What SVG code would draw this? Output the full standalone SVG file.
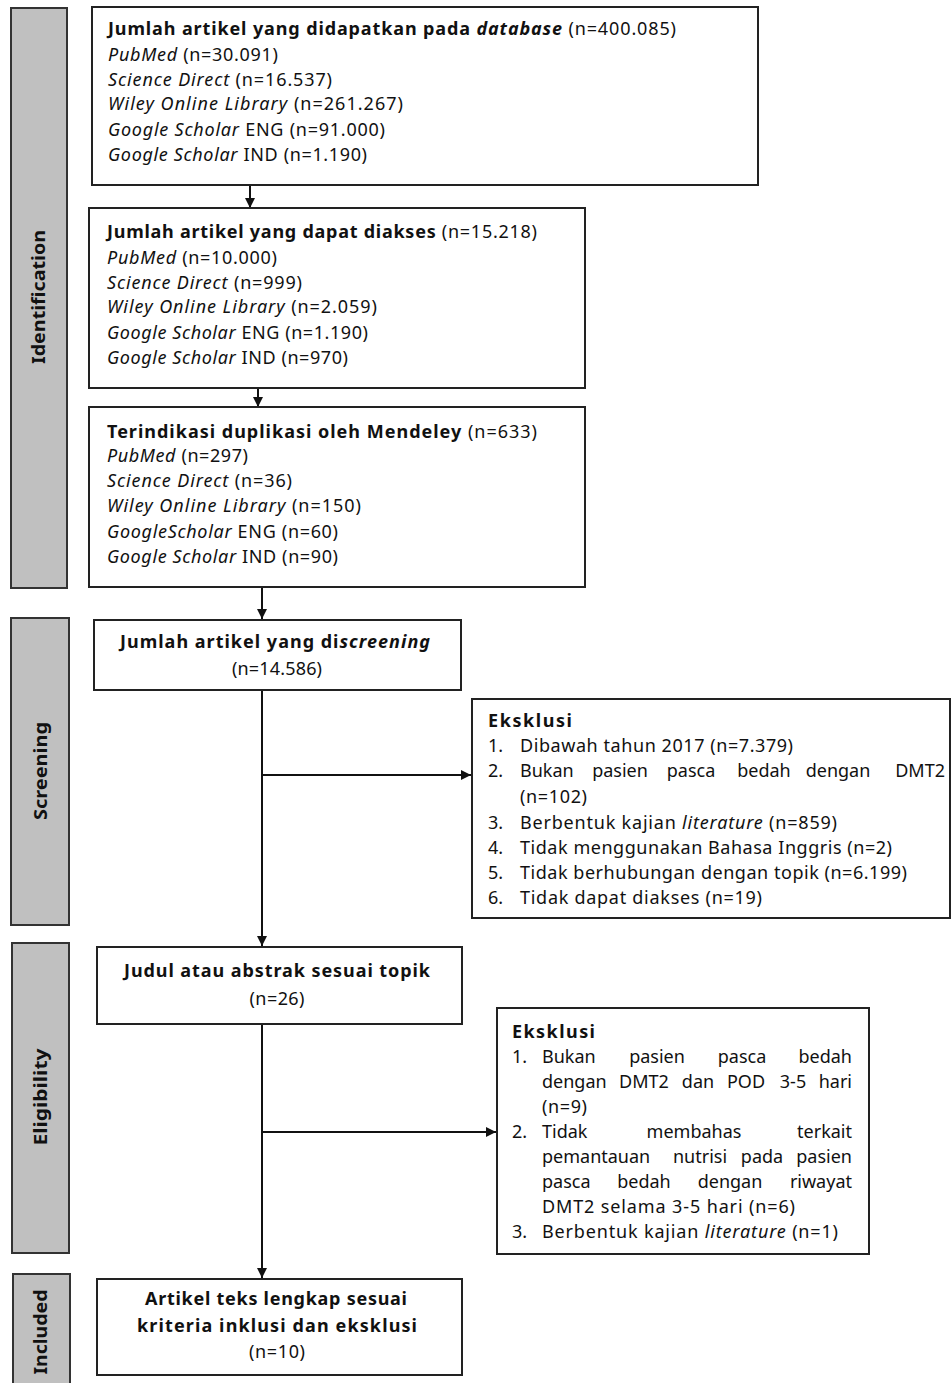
<svg xmlns="http://www.w3.org/2000/svg" width="952" height="1383" viewBox="0 0 952 1383">
<defs>
<marker id="ah" markerUnits="userSpaceOnUse" markerWidth="10" markerHeight="10" refX="10" refY="5" orient="auto">
<path d="M0,0 L10,5 L0,10 z" fill="#111"/>
</marker>
<style>
.box{fill:#fff;stroke:#222;stroke-width:2}
.bar{fill:#c0c0c0;stroke:#333;stroke-width:2}
.con{stroke:#111;stroke-width:2;fill:none}
text{font-family:"Noto Sans","Liberation Sans",sans-serif;font-size:18px;fill:#111}
.b{font-weight:bold;font-size:18px}
.i{font-style:italic}
.lbl{font-weight:bold;font-size:17px}
.c{text-anchor:middle}
.e{text-anchor:end}
</style>
</defs>

<g id="stage-identification">
<rect class="bar" x="11" y="8" width="56" height="580"/>
<text class="lbl c" transform="translate(45,297) rotate(-90)" textLength="134" lengthAdjust="spacingAndGlyphs">Identification</text>
</g>
<g id="stage-screening">
<rect class="bar" x="11" y="618" width="58" height="307"/>
<text class="lbl c" transform="translate(47,771) rotate(-90)" textLength="98" lengthAdjust="spacingAndGlyphs">Screening</text>
</g>
<g id="stage-eligibility">
<rect class="bar" x="12" y="943" width="57" height="310"/>
<text class="lbl c" transform="translate(47,1097) rotate(-90)" textLength="97" lengthAdjust="spacingAndGlyphs">Eligibility</text>
</g>
<g id="stage-included">
<rect class="bar" x="13" y="1274" width="57" height="116"/>
<text class="lbl c" transform="translate(47,1332) rotate(-90)" textLength="85" lengthAdjust="spacingAndGlyphs">Included</text>
</g>

<g id="connectors">
<line class="con" x1="250" y1="185" x2="250" y2="208" marker-end="url(#ah)"/>
<line class="con" x1="258" y1="388" x2="258" y2="407" marker-end="url(#ah)"/>
<line class="con" x1="262" y1="587" x2="262" y2="619" marker-end="url(#ah)"/>
<line class="con" x1="262" y1="690" x2="262" y2="946" marker-end="url(#ah)"/>
<line class="con" x1="262" y1="775" x2="471" y2="775" marker-end="url(#ah)"/>
<line class="con" x1="262" y1="1024" x2="262" y2="1278" marker-end="url(#ah)"/>
<line class="con" x1="262" y1="1132" x2="496" y2="1132" marker-end="url(#ah)"/>
</g>

<g id="node-database">
<rect class="box" x="92" y="7" width="666" height="178"/>
<text x="108" y="35" textLength="568" lengthAdjust="spacing"><tspan class="b">Jumlah artikel yang didapatkan pada </tspan><tspan class="b i">database</tspan> (n=400.085)</text>
<text x="108" y="61" textLength="170" lengthAdjust="spacing"><tspan class="i">PubMed</tspan> (n=30.091)</text>
<text x="108" y="86" textLength="224" lengthAdjust="spacing"><tspan class="i">Science Direct</tspan>  (n=16.537)</text>
<text x="108" y="110" textLength="295" lengthAdjust="spacing"><tspan class="i">Wiley Online Library</tspan>  (n=261.267)</text>
<text x="108" y="136" textLength="277" lengthAdjust="spacing"><tspan class="i">Google Scholar</tspan> ENG (n=91.000)</text>
<text x="108" y="161" textLength="259" lengthAdjust="spacing"><tspan class="i">Google Scholar</tspan> IND (n=1.190)</text>
</g>

<g id="node-accessible">
<rect class="box" x="89" y="208" width="496" height="180"/>
<text x="107" y="238" textLength="430" lengthAdjust="spacing"><tspan class="b">Jumlah artikel yang dapat diakses</tspan> (n=15.218)</text>
<text x="107" y="264" textLength="170" lengthAdjust="spacing"><tspan class="i">PubMed</tspan> (n=10.000)</text>
<text x="107" y="289" textLength="195" lengthAdjust="spacing"><tspan class="i">Science Direct</tspan>  (n=999)</text>
<text x="107" y="313" textLength="270" lengthAdjust="spacing"><tspan class="i">Wiley Online Library</tspan>  (n=2.059)</text>
<text x="107" y="339" textLength="261" lengthAdjust="spacing"><tspan class="i">Google Scholar</tspan> ENG (n=1.190)</text>
<text x="107" y="364" textLength="241" lengthAdjust="spacing"><tspan class="i">Google Scholar</tspan> IND (n=970)</text>
</g>

<g id="node-duplicates">
<rect class="box" x="89" y="407" width="496" height="180"/>
<text x="107" y="438" textLength="430" lengthAdjust="spacing"><tspan class="b">Terindikasi duplikasi oleh Mendeley</tspan> (n=633)</text>
<text x="107" y="462" textLength="141" lengthAdjust="spacing"><tspan class="i">PubMed</tspan> (n=297)</text>
<text x="107" y="487" textLength="185" lengthAdjust="spacing"><tspan class="i">Science Direct</tspan>  (n=36)</text>
<text x="107" y="512" textLength="254" lengthAdjust="spacing"><tspan class="i">Wiley Online Library</tspan>  (n=150)</text>
<text x="107" y="538" textLength="231" lengthAdjust="spacing"><tspan class="i">GoogleScholar</tspan> ENG (n=60)</text>
<text x="107" y="563" textLength="231" lengthAdjust="spacing"><tspan class="i">Google Scholar</tspan> IND (n=90)</text>
</g>

<g id="node-screened">
<rect class="box" x="94" y="620" width="367" height="70"/>
<text class="b c" x="275" y="648" textLength="310" lengthAdjust="spacing">Jumlah artikel yang di<tspan class="i">screening</tspan></text>
<text class="c" x="277" y="675" textLength="90" lengthAdjust="spacing">(n=14.586)</text>
</g>

<g id="node-exclusion-1">
<rect class="box" x="472" y="699" width="478" height="219"/>
<text class="b" x="488" y="727" textLength="84" lengthAdjust="spacing">Eksklusi</text>
<text x="488" y="752">1.</text>
<text x="520" y="752" textLength="273" lengthAdjust="spacing">Dibawah tahun 2017  (n=7.379)</text>
<text x="488" y="777">2.</text>
<text x="520" y="777">Bukan</text>
<text class="c" x="620" y="777">pasien</text>
<text class="c" x="691" y="777">pasca</text>
<text class="c" x="764" y="777">bedah</text>
<text class="c" x="838" y="777">dengan</text>
<text class="e" x="945" y="777">DMT2</text>
<text x="520" y="803" textLength="67" lengthAdjust="spacing">(n=102)</text>
<text x="488" y="829">3.</text>
<text x="520" y="829" textLength="317" lengthAdjust="spacing">Berbentuk kajian <tspan class="i">literature</tspan> (n=859)</text>
<text x="488" y="854">4.</text>
<text x="520" y="854" textLength="372" lengthAdjust="spacing">Tidak menggunakan  Bahasa  Inggris (n=2)</text>
<text x="488" y="879">5.</text>
<text x="520" y="879" textLength="387" lengthAdjust="spacing">Tidak berhubungan  dengan  topik (n=6.199)</text>
<text x="488" y="904">6.</text>
<text x="520" y="904" textLength="242" lengthAdjust="spacing">Tidak dapat diakses  (n=19)</text>
</g>

<g id="node-title-abstract">
<rect class="box" x="97" y="947" width="365" height="77"/>
<text class="b c" x="277" y="977" textLength="306" lengthAdjust="spacing">Judul atau abstrak sesuai topik</text>
<text class="c" x="277" y="1005" textLength="55" lengthAdjust="spacing">(n=26)</text>
</g>

<g id="node-exclusion-2">
<rect class="box" x="497" y="1008" width="372" height="246"/>
<text class="b" x="512" y="1038" textLength="83" lengthAdjust="spacing">Eksklusi</text>
<text x="512" y="1063">1.</text>
<text x="542" y="1063">Bukan</text>
<text class="c" x="657" y="1063">pasien</text>
<text class="c" x="742" y="1063">pasca</text>
<text class="e" x="852" y="1063">bedah</text>
<text x="542" y="1088">dengan</text>
<text class="c" x="644" y="1088">DMT2</text>
<text class="c" x="698" y="1088">dan</text>
<text class="c" x="746" y="1088">POD</text>
<text class="c" x="793" y="1088">3-5</text>
<text class="e" x="852" y="1088">hari</text>
<text x="542" y="1113" textLength="45" lengthAdjust="spacing">(n=9)</text>
<text x="512" y="1138">2.</text>
<text x="542" y="1138">Tidak</text>
<text class="c" x="694" y="1138">membahas</text>
<text class="e" x="852" y="1138">terkait</text>
<text x="542" y="1163">pemantauan</text>
<text class="c" x="700" y="1163">nutrisi</text>
<text class="c" x="762" y="1163">pada</text>
<text class="e" x="852" y="1163">pasien</text>
<text x="542" y="1188">pasca</text>
<text class="c" x="644" y="1188">bedah</text>
<text class="c" x="730" y="1188">dengan</text>
<text class="e" x="852" y="1188">riwayat</text>
<text x="542" y="1213" textLength="253" lengthAdjust="spacing">DMT2 selama 3-5 hari  (n=6)</text>
<text x="512" y="1238">3.</text>
<text x="542" y="1238" textLength="296" lengthAdjust="spacing">Berbentuk kajian <tspan class="i">literature</tspan> (n=1)</text>
</g>

<g id="node-included">
<rect class="box" x="97" y="1279" width="365" height="96"/>
<text class="b c" x="276" y="1305" textLength="262" lengthAdjust="spacing">Artikel teks lengkap sesuai</text>
<text class="b c" x="277" y="1332" textLength="280" lengthAdjust="spacing">kriteria inklusi dan eksklusi</text>
<text class="c" x="277" y="1358" textLength="56" lengthAdjust="spacing">(n=10)</text>
</g>
</svg>
